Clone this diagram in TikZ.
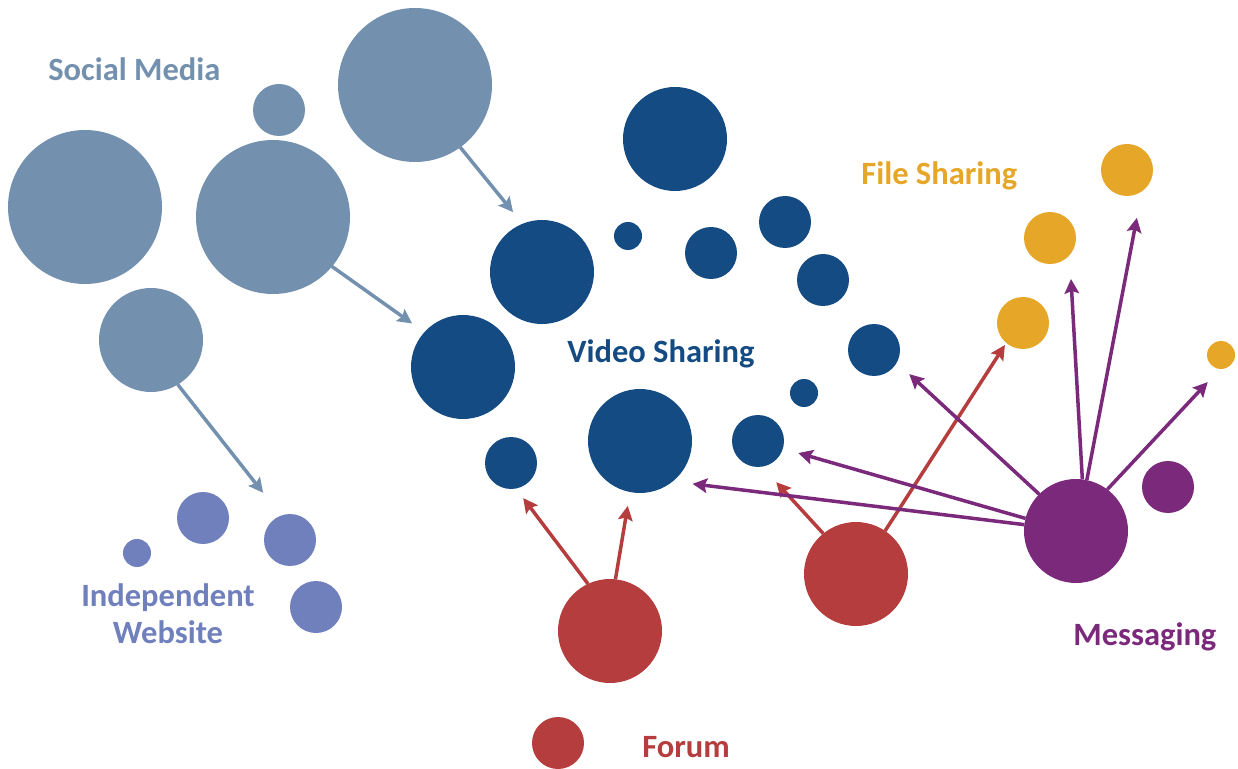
\documentclass[tikz,border=0pt]{standalone}
\usepackage{fontspec}
\newfontfamily\tagfont{Carlito}
\usetikzlibrary{arrows.meta}
\definecolor{social}{HTML}{7391AE}
\definecolor{video}{HTML}{154B83}
\definecolor{files}{HTML}{E6A628}
\definecolor{messaging}{HTML}{7B297B}
\definecolor{forum}{HTML}{B53D3D}
\definecolor{website}{HTML}{6F80BD}
\tikzset{
  bubble/.style={circle, inner sep=0pt, outer sep=0pt, draw=none},
  xl/.style={bubble, minimum size=30.8mm},
  lg/.style={bubble, minimum size=20.8mm},
  md/.style={bubble, minimum size=10.4mm},
  sm/.style={bubble, minimum size=5.6mm},
  grouptag/.style={font=\tagfont\bfseries\fontsize{18.5}{20.5}\selectfont, inner sep=0pt},
  link/.style={-{Stealth[length=2.9mm,width=2.9mm,inset=0.5mm]}, line width=0.7mm}
}

\begin{document}
\begin{tikzpicture}[x=0.2mm,y=-0.2mm]
  \useasboundingbox (0,0) rectangle (1238,769);

  % social media
  \foreach \n/\s/\p in {sm1/xl/{85,207}, sm2/md/{279,110}, sm3/xl/{273,217},
                        sm4/xl/{415,85}, sm5/lg/{151,340}}
    \node[\s, fill=social] (\n) at (\p) {};

  % video sharing
  \foreach \n/\s/\p in {vs1/lg/{675,139}, vs2/lg/{542,272}, vs3/sm/{628,236},
                        vs4/md/{711,253}, vs5/md/{785,222}, vs6/md/{823,280},
                        vs7/md/{874,350}, vs8/sm/{804,393}, vs9/md/{758,441},
                        vs10/lg/{640,441}, vs11/md/{511,463}, vs12/lg/{463,367}}
    \node[\s, fill=video] (\n) at (\p) {};

  % file sharing
  \foreach \n/\s/\p in {fs1/md/{1127,170}, fs2/md/{1050,238}, fs3/md/{1023,323},
                        fs4/sm/{1221,355}}
    \node[\s, fill=files] (\n) at (\p) {};

  % messaging, forum, independent websites
  \node[lg, fill=messaging] (msg1) at (1076,531) {};
  \node[md, fill=messaging] (msg2) at (1168,487) {};
  \node[lg, fill=forum] (fr1) at (610,631) {};
  \node[lg, fill=forum] (fr2) at (856,574) {};
  \node[md, fill=forum] (fr3) at (558,743) {};
  \foreach \n/\s/\p in {iw1/sm/{137,553}, iw2/md/{203,518}, iw3/md/{290,540},
                        iw4/md/{316,607}}
    \node[\s, fill=website] (\n) at (\p) {};

  % links
  \foreach \a/\b/\c in {sm4.-54/vs2.112/3mm, sm3.-40/vs12.138/3mm, sm5.-59/iw3.110/5.8mm}
    \draw[link, social, shorten >=\c] (\a) -- (\b);
  \foreach \a/\b/\c in {fr1.115/vs11.-79/2.4mm, fr1.84/vs10.-101/2.8mm,
                        fr2.129/vs9.-81/4.2mm, fr2.56/fs3.-130/0.5mm}
    \draw[link, forum, shorten >=\c] (\a) -- (\b);
  \foreach \a/\b/\c in {msg1.135/vs7.-29/3.4mm, msg1.83/fs2.-41/4.8mm,
                        msg1.78/fs1.-55/5.4mm, msg1.53/fs4.-94/3.6mm,
                        msg1.166/vs9.-17/3.2mm, msg1.173/vs10.-51/4mm}
    \draw[link, messaging, shorten >=\c] (\a) -- (\b);

  % group labels
  \node[grouptag, text=social, anchor=base west] (tsocial) at (48,81) {Social Media};
  \node[grouptag, text=video, anchor=base west] (tvideo) at (567,362) {Video Sharing};
  \node[grouptag, text=files, anchor=base west] (tfiles) at (861,185) {File Sharing};
  \node[grouptag, text=messaging, anchor=base west] (tmsg) at (1073,645) {Messaging};
  \node[grouptag, text=forum, anchor=base west] (tforum) at (642,757) {Forum};
  \node[grouptag, text=website, align=center, anchor=base] (tweb) at (168,643) {Independent\\Website};
\end{tikzpicture}
\end{document}
